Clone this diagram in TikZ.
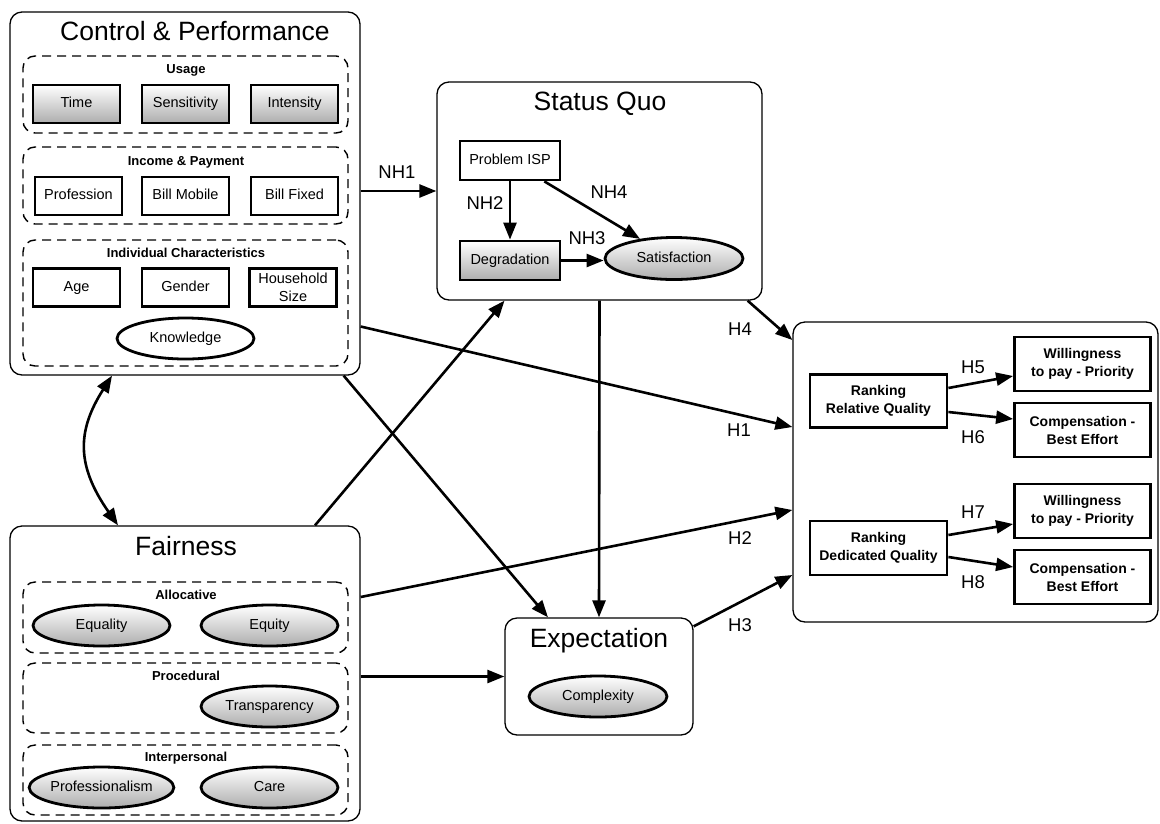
\documentclass[tikz,border=0pt]{standalone}
\usepackage{fontspec}
\setmainfont{Liberation Sans}
\usetikzlibrary{arrows.meta,shapes.geometric}

\begin{document}
\begin{tikzpicture}[x=1pt,y=-1pt,
  container/.style={draw, line width=1.3pt, rounded corners=12pt, inner sep=0pt},
  group/.style={draw, dash pattern=on 9pt off 6pt, line width=1.4pt, rounded corners=12pt,
                inner sep=0pt, minimum width=325pt},
  item/.style={draw, line width=2.8pt, minimum width=87pt, minimum height=38pt, inner sep=0pt,
               font=\fontsize{14.5}{17.5}\selectfont, align=center, fill=white},
  oneline/.style={text height=10.5pt, text depth=3pt},
  shaded/.style={top color=white, bottom color=black!32},
  oval/.style={ellipse, draw, line width=2.8pt, minimum width=137pt, minimum height=41pt,
               inner sep=0pt, font=\fontsize{14.5}{17.5}\selectfont, fill=white, oneline},
  grouplabel/.style={font=\bfseries\fontsize{13}{15}\selectfont, text height=9.5pt, text depth=2.7pt},
  title/.style={font=\fontsize{26.5}{30}\selectfont, text height=19pt, text depth=3pt},
  hyp/.style={font=\fontsize{18.5}{22}\selectfont},
  outbox/.style={draw, line width=2.8pt, minimum width=136pt, minimum height=54pt, inner sep=0pt,
                 font=\bfseries\fontsize{14}{18}\selectfont, align=center, fill=white},
  link/.style={line width=2.6pt, -{Triangle[length=17pt,width=13pt]}},
  biglink/.style={line width=2.6pt, {Triangle[length=17pt,width=13pt]}-{Triangle[length=17pt,width=13pt]}}
]
\useasboundingbox (0,0) rectangle (1160,823);

% ---------- Control & Performance ----------
\node[container, minimum width=350pt, minimum height=363pt] (cp) at (185,193.5) {};
\node[title] (cptitle) at (195,32) {Control \& Performance};

\node[group, minimum height=77pt] (usage) at (185.5,94.5) {};
\node[grouplabel] (usagelbl) at (186,70) {Usage};
\node[item, oneline, shaded] (time) at (76.5,104) {Time};
\node[item, oneline, shaded] (sens) at (185.5,104) {Sensitivity};
\node[item, oneline, shaded] (inten) at (294.5,104) {Intensity};

\node[group, minimum height=77pt] (income) at (185.5,185.5) {};
\node[grouplabel] (incomelbl) at (186,162) {Income \& Payment};
\node[item, oneline] (prof) at (78.5,196) {Profession};
\node[item, oneline] (billm) at (185.5,196) {Bill Mobile};
\node[item, oneline] (billf) at (294.5,196) {Bill Fixed};

\node[group, minimum height=126pt] (indiv) at (185.5,303) {};
\node[grouplabel] (indivlbl) at (186,254) {Individual Characteristics};
\node[item, oneline] (age) at (76.5,287.5) {Age};
\node[item, oneline] (gender) at (185.5,287.5) {Gender};
\node[item] (house) at (293,287.5) {Household\\Size};
\node[oval] (know) at (185.5,338.5) {Knowledge};

% ---------- Fairness ----------
\node[container, minimum width=350pt, minimum height=295pt] (fair) at (185,673.5) {};
\node[title] (fairtitle) at (186,547) {Fairness};

\node[group, minimum height=71pt] (alloc) at (185.5,617.5) {};
\node[grouplabel] (alloclbl) at (186,596) {Allocative};
\node[oval, shaded] (equality) at (101.5,625.5) {Equality};
\node[oval, shaded] (equity) at (269.5,625.5) {Equity};

\node[group, minimum height=70pt] (proc) at (185.5,698) {};
\node[grouplabel] (proclbl) at (186,677) {Procedural};
\node[oval, shaded] (transp) at (269.5,706.5) {Transparency};

\node[group, minimum height=70pt] (inter) at (185.5,780) {};
\node[grouplabel] (interlbl) at (186,758) {Interpersonal};
\node[oval, shaded] (profism) at (101.5,787.5) {Professionalism};
\node[oval, shaded] (care) at (269.5,787.5) {Care};

% ---------- Status Quo ----------
\node[container, minimum width=325pt, minimum height=218pt] (sq) at (599.5,191) {};
\node[title] (sqtitle) at (600,102) {Status Quo};
\node[item, oneline, minimum width=100pt, minimum height=39pt] (pisp) at (510,160.5) {Problem ISP};
\node[item, oneline, shaded, minimum width=100pt, minimum height=39pt] (deg) at (510,260.5) {Degradation};
\node[oval, shaded, minimum width=138pt, minimum height=42pt] (sat) at (674,258.5) {Satisfaction};

\draw[link] (pisp.south) -- (deg.north);
\draw[link] (deg.east) -- (deg.east -| sat.west);
\draw[link] ([xshift=-17pt]pisp.south east) -- (sat.150);
\node[hyp] (nh2) at (485,203) {NH2};
\node[hyp] (nh3) at (587,238) {NH3};
\node[hyp] (nh4) at (609,192) {NH4};

% ---------- Expectation ----------
\node[container, minimum width=188pt, minimum height=117pt] (exp) at (599,676.5) {};
\node[title] (exptitle) at (599,639) {Expectation};
\node[oval, shaded, minimum width=138pt] (cplx) at (598,696.5) {Complexity};

% ---------- Rankings ----------
\node[container, minimum width=365pt, minimum height=300pt] (rk) at (975.5,472) {};
\node[outbox, minimum width=137pt, minimum height=53pt] (rrq) at (878.5,401) {Ranking\\Relative Quality};
\node[outbox] (w1) at (1082.5,364) {Willingness\\to pay - Priority};
\node[outbox] (c1) at (1082.5,430) {Compensation -\\Best Effort};
\node[outbox, minimum width=137pt] (rdq) at (878.5,548) {Ranking\\Dedicated Quality};
\node[outbox] (w2) at (1082.5,511) {Willingness\\to pay - Priority};
\node[outbox] (c2) at (1082.5,577) {Compensation -\\Best Effort};

\draw[link] ([yshift=13pt]rrq.east) -- ([yshift=-12pt]w1.west);
\draw[link] ([yshift=-11pt]rrq.east) -- ([yshift=11pt]c1.west);
\draw[link] ([yshift=13pt]rdq.east) -- ([yshift=-13pt]w2.west);
\draw[link] ([yshift=-9pt]rdq.east) -- ([yshift=10pt]c2.west);
\node[hyp] (h5) at (973,367) {H5};
\node[hyp] (h6) at (973,437) {H6};
\node[hyp] (h7) at (973,512) {H7};
\node[hyp] (h8) at (973,582) {H8};

% ---------- Links between constructs ----------
\draw[link] (cp.east |- sq.west) -- (sq.west);
\node[hyp] (nh1) at (397,172) {NH1};

\draw[link] ([yshift=-133pt]cp.east) -- ([yshift=45pt]rk.west);
\node[hyp] (h1) at (739,430) {H1};

\draw[link] ([xshift=-15pt]sq.south east) -- ([yshift=132pt]rk.west);
\node[hyp] (h4) at (740,329) {H4};

\draw[link] ([xshift=-17pt]cp.south east) -- ([xshift=-51pt]exp.north);
\draw[link] ([xshift=130pt]fair.north) -- ([xshift=-95pt]sq.south);
\draw[link] (sq.south) -- (exp.north);

\draw[link] ([yshift=76.5pt]fair.east) -- ([yshift=-38pt]rk.west);
\node[hyp] (h2) at (740,538) {H2};

\draw[link] (fair.east |- exp.west) -- (exp.west);

\draw[link] ([yshift=-9pt]exp.north east) -- ([yshift=-103pt]rk.west);
\node[hyp] (h3) at (740,625) {H3};

\draw[biglink] ([xshift=-73pt]cp.south) .. controls +(-35,55) and +(-42,-60) .. ([xshift=-67pt]fair.north);

\end{tikzpicture}
\end{document}
